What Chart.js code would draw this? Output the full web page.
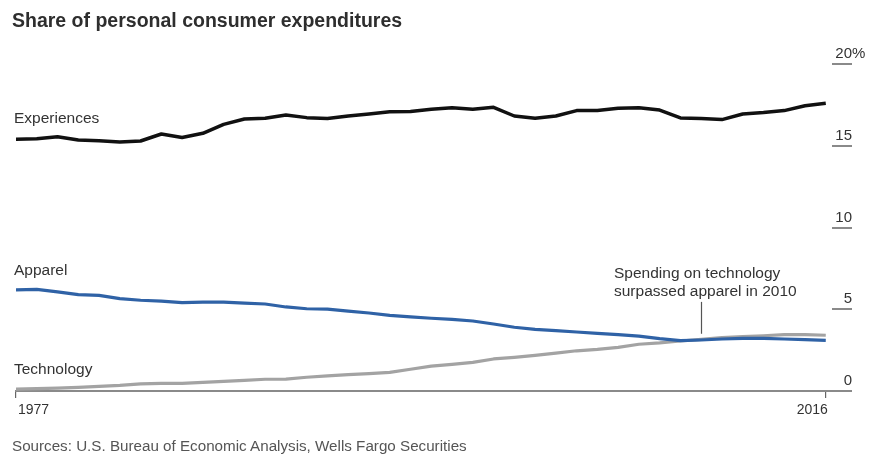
<!DOCTYPE html>
<html>
<head>
<meta charset="utf-8">
<script src="https://cdn.jsdelivr.net/npm/chart.js@4/dist/chart.umd.min.js"></script>
<style>
  html, body { margin: 0; padding: 0; background: #fff; }
  #wrap { position: relative; width: 873px; height: 454px; overflow: hidden; font-family: "Liberation Sans", Arial, sans-serif; color: #333; }
  #c { position: absolute; left: 0; top: 0; }
  .t { position: absolute; white-space: nowrap; line-height: 18px; }
  #title { left: 12px; top: 9px; font-weight: bold; font-size: 19.5px; line-height: 22px; color: #2e2e2e; }
  .lab { font-size: 15.5px; color: #333; }
  #src { left: 12px; top: 437px; font-size: 15.2px; color: #555; }
</style>
</head>
<body>
<div id="wrap">
  <canvas id="c" width="873" height="454"></canvas>
  <div class="t" id="title">Share of personal consumer expenditures</div>
  <div class="t lab" style="left:14px; top:109px;">Experiences</div>
  <div class="t lab" style="left:14px; top:261px;">Apparel</div>
  <div class="t lab" style="left:14px; top:360px;">Technology</div>
  <div class="t lab" style="left:614px; top:264px; line-height:17.5px;">Spending on technology<br>surpassed apparel in 2010</div>
  <div class="t" id="src">Sources: U.S. Bureau of Economic Analysis, Wells Fargo Securities</div>
</div>
<script>
const years = [1977,1978,1979,1980,1981,1982,1983,1984,1985,1986,1987,1988,1989,1990,1991,1992,1993,1994,1995,1996,
               1997,1998,1999,2000,2001,2002,2003,2004,2005,2006,2007,2008,2009,2010,2011,2012,2013,2014,2015,2016];
const experiences = [15.40,15.43,15.55,15.35,15.30,15.23,15.29,15.72,15.50,15.76,16.31,16.64,16.68,16.88,16.72,16.66,16.82,16.94,17.08,17.10,
                     17.23,17.33,17.23,17.35,16.82,16.68,16.82,17.15,17.16,17.29,17.33,17.18,16.70,16.66,16.60,16.94,17.03,17.15,17.45,17.60];
const apparel = [6.18,6.22,6.06,5.89,5.85,5.65,5.55,5.50,5.40,5.44,5.44,5.38,5.32,5.14,5.03,5.01,4.89,4.77,4.63,4.53,
                 4.45,4.38,4.28,4.10,3.90,3.77,3.69,3.61,3.53,3.45,3.36,3.20,3.08,3.12,3.18,3.22,3.22,3.18,3.14,3.10];
const technology = [0.12,0.14,0.18,0.22,0.28,0.34,0.43,0.47,0.47,0.53,0.59,0.65,0.72,0.73,0.84,0.92,1.00,1.06,1.14,1.33,
                    1.52,1.63,1.75,1.96,2.06,2.18,2.32,2.46,2.55,2.67,2.86,2.94,3.06,3.16,3.26,3.32,3.38,3.45,3.45,3.41];
const xTickValues = [1977, 2016];
const yTickValues = [0, 5, 10, 15, 20];
const unitSuffix = '%';
const annotationYear = 2010;
const annotationFrom = 5.45;
const annotationTo = 3.5;
const tickFont = { family: '"Liberation Sans", Arial, sans-serif', size: 15 };

const toPts = arr => arr.map((v, i) => ({ x: years[i], y: v }));

const extras = {
  id: 'extras',
  afterDatasetsDraw(chart) {
    const { ctx, scales: { x, y } } = chart;
    const px = Math.round(x.getPixelForValue(annotationYear)) + 0.5;
    ctx.save();
    ctx.strokeStyle = '#555';
    ctx.lineWidth = 1.2;
    ctx.beginPath();
    ctx.moveTo(px, y.getPixelForValue(annotationFrom));
    ctx.lineTo(px, y.getPixelForValue(annotationTo));
    ctx.stroke();
    ctx.restore();
  },
  afterDraw(chart) {
    // hanging percent sign after the top tick label of the value axis
    const { ctx, scales: { y } } = chart;
    const topVal = yTickValues[yTickValues.length - 1];
    ctx.save();
    ctx.font = `${tickFont.size}px ${tickFont.family}`;
    ctx.fillStyle = '#333';
    ctx.textAlign = 'left';
    ctx.textBaseline = 'middle';
    ctx.fillText(unitSuffix, y.right, y.getPixelForValue(topVal) + y.options.ticks.labelOffset);
    ctx.restore();
  }
};

new Chart(document.getElementById('c'), {
  type: 'line',
  data: {
    datasets: [
      { label: 'Experiences', data: toPts(experiences), borderColor: '#111', borderWidth: 3.5, order: 1 },
      { label: 'Apparel', data: toPts(apparel), borderColor: '#2f62a6', borderWidth: 3.2, order: 2 },
      { label: 'Technology', data: toPts(technology), borderColor: '#a3a3a3', borderWidth: 3.2, order: 3 }
    ]
  },
  options: {
    responsive: false,
    animation: false,
    events: [],
    elements: { point: { radius: 0 }, line: { tension: 0, borderJoinStyle: 'round', borderCapStyle: 'butt' } },
    layout: { padding: { left: 16, right: 21, top: 64, bottom: 33 } },
    plugins: { legend: { display: false }, tooltip: { enabled: false }, title: { display: false } },
    scales: {
      x: {
        type: 'linear',
        min: 1977,
        max: 2016.3,
        afterBuildTicks: s => { s.ticks = xTickValues.map(v => ({ value: v })); },
        afterFit: s => { s.height = 30; s.paddingLeft = 0; s.paddingRight = 0; },
        border: { display: true, color: '#8a8a8a', width: 2 },
        grid: { drawOnChartArea: false, drawTicks: true, tickLength: 7, color: '#666', lineWidth: 1.2 },
        ticks: {
          align: 'inner', autoSkip: false, maxRotation: 0, padding: 4, labelOffset: 2,
          color: '#333', font: { family: '"Liberation Sans", Arial, sans-serif', size: 14 },
          callback: v => String(v)
        }
      },
      y: {
        position: 'right',
        min: 0,
        max: 20,
        afterBuildTicks: s => { s.ticks = yTickValues.map(v => ({ value: v })); },
        afterFit: s => { s.width = 20; s.paddingTop = 0; s.paddingBottom = 0; },
        border: { display: false },
        grid: { drawOnChartArea: false, drawTicks: true, tickLength: 20, color: '#8a8a8a', lineWidth: 2 },
        ticks: {
          mirror: true, padding: 20, labelOffset: -10,
          color: '#333', font: tickFont,
          callback: v => String(v)
        }
      }
    }
  },
  plugins: [extras]
});
</script>
</body>
</html>
